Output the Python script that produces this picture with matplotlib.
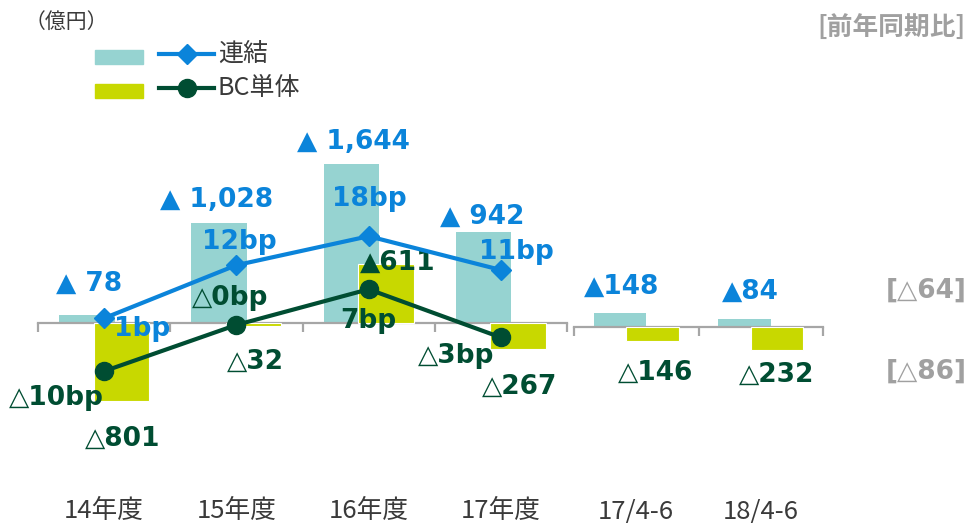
"""Consolidated vs BC standalone: YoY change (億円) with margin change (bp)."""

import matplotlib

matplotlib.use("Agg")
import matplotlib.pyplot as plt
from matplotlib.patches import Rectangle

# ---- data -------------------------------------------------------------
annual_labels = ["14年度", "15年度", "16年度", "17年度"]
quarter_labels = ["17/4-6", "18/4-6"]

consol_annual = [78, 1028, 1644, 942]
bc_annual = [-801, -32, 611, -267]
consol_quarter = [148, 84]
bc_quarter = [-146, -232]

consol_bp = [1, 12, 18, 11]
bc_bp = [-10, -0.4, 7, -3]

prior_notes = ["[△64]", "[△86]"]

# ---- style ------------------------------------------------------------
W, H = 971, 523
TEAL = "#96D3D1"
LIME = "#C8D800"
BLUE = "#0B84DA"
DGREEN = "#004D32"
AXIS_GRAY = "#A6A6A6"
NOTE_GRAY = "#A0A0A0"
TEXT = "#3A3A3A"
JP = ["Noto Sans CJK JP", "DejaVu Sans"]
NUM = ["DejaVu Sans", "Noto Sans CJK JP"]
LABEL_FS = 19

PX_PER_YEN = 0.097  # vertical pixels per 億円
PX_PER_BP = 4.82  # vertical pixels per bp
BAR_W = 0.42
BAR_SHIFT = 0.13

# label offsets in pixels (dx, dy) from the mark they describe
consol_annual_off = [(2, 32), (-3, 23), (2, 22), (-1, 15)]
bc_annual_off = [(1, -38), (2, -36), (12, 1), (2, -38)]
consol_quarter_off = [(2, 26), (6, 27)]
bc_quarter_off = [(3, -32), (0, -25)]
consol_bp_off = [(38, -11), (3, 23), (1, 37), (15, 18)]
bc_bp_off = [(-48, -27), (-6, 27), (0, -32), (-45, -19)]


def fmt_yen(v, gap=""):
    if v >= 0:
        return f"▲{gap}{v:,}"
    return f"△{abs(v):,}"


def fmt_bp(v):
    r = int(round(abs(v)))
    return f"△{r}bp" if v < 0 else f"{r}bp"


def make_axes(fig, left_px, right_px, base_px):
    ax = fig.add_axes([left_px / W, 0, (right_px - left_px) / W, 1])
    below = (H - base_px) / PX_PER_YEN
    ax.set_ylim(-below, base_px / PX_PER_YEN)
    ax.patch.set_alpha(0)
    for s in ("top", "right", "left"):
        ax.spines[s].set_visible(False)
    ax.spines["bottom"].set_position(("data", 0))
    ax.spines["bottom"].set_color(AXIS_GRAY)
    ax.spines["bottom"].set_linewidth(1.6)
    ax.tick_params(axis="x", direction="out", length=6.5, width=1.6,
                   color=AXIS_GRAY, labelbottom=False)
    ax.set_yticks([])
    return ax


def draw_group(ax, labels, consol, bc, consol_off, bc_off, gap):
    n = len(labels)
    centers = [i + 0.5 for i in range(n)]
    ax.set_xlim(0, n)
    ax.set_xticks(range(n + 1))
    tx = [c - BAR_SHIFT for c in centers]
    bx = [c + BAR_SHIFT for c in centers]
    ax.bar(tx, consol, width=BAR_W, color=TEAL, zorder=2)
    ax.bar(bx, bc, width=BAR_W, color=LIME, edgecolor="white", linewidth=0.8, zorder=3)
    for x, v, off in zip(tx, consol, consol_off):
        ax.annotate(fmt_yen(v, gap), (x, v), xytext=off, textcoords="offset pixels",
                    ha="center", va="center", fontsize=LABEL_FS, fontweight="bold",
                    color=BLUE, family=NUM, annotation_clip=False, zorder=6)
    for x, v, off in zip(bx, bc, bc_off):
        ax.annotate(fmt_yen(v), (x, v), xytext=off, textcoords="offset pixels",
                    ha="center", va="center", fontsize=LABEL_FS, fontweight="bold",
                    color=DGREEN, family=NUM, annotation_clip=False, zorder=6)
    tr = ax.get_xaxis_transform()
    for c, lab in zip(centers, labels):
        ax.text(c, 0.022, lab, transform=tr, ha="center", va="center",
                fontsize=18.5, color=TEXT, family=JP)
    return centers


fig = plt.figure(figsize=(W / 100, H / 100), dpi=100)

ax1 = make_axes(fig, 38, 567, 323)
centers = draw_group(ax1, annual_labels, consol_annual, bc_annual,
                     consol_annual_off, bc_annual_off, gap=" ")

ax2 = make_axes(fig, 574, 823, 327)
draw_group(ax2, quarter_labels, consol_quarter, bc_quarter,
           consol_quarter_off, bc_quarter_off, gap="")

# margin change (bp) on a secondary scale sharing the zero line
axb = ax1.twinx()
axb.set_ylim(-(H - 323) / PX_PER_BP, 323 / PX_PER_BP)
axb.axis("off")
axb.plot(centers, consol_bp, color=BLUE, lw=3, marker="D", ms=10, zorder=4)
axb.plot(centers, bc_bp, color=DGREEN, lw=3, marker="o", ms=13, zorder=4)
for x, v, off in zip(centers, consol_bp, consol_bp_off):
    axb.annotate(fmt_bp(v), (x, v), xytext=off, textcoords="offset pixels",
                 ha="center", va="center", fontsize=LABEL_FS, fontweight="bold",
                 color=BLUE, family=NUM, annotation_clip=False)
for x, v, off in zip(centers, bc_bp, bc_bp_off):
    axb.annotate(fmt_bp(v), (x, v), xytext=off, textcoords="offset pixels",
                 ha="center", va="center", fontsize=LABEL_FS, fontweight="bold",
                 color=DGREEN, family=NUM, annotation_clip=False)

# overlay in pixel coordinates for legend and header notes
ov = fig.add_axes([0, 0, 1, 1])
ov.set_xlim(0, W)
ov.set_ylim(H, 0)
ov.axis("off")

ov.text(66, 22, "（億円）", ha="center", va="center", fontsize=15,
        color=TEXT, family=JP)
ov.text(966, 27, "[前年同期比]", ha="right", va="center", fontsize=18.5,
        fontweight="bold", color=NOTE_GRAY, family=JP)
for y, note in zip([291, 372], prior_notes):
    ov.text(926, y, note, ha="center", va="center", fontsize=LABEL_FS,
            fontweight="bold", color=NOTE_GRAY, family=NUM)

legend_rows = [(57, TEAL, BLUE, "D", 10, "連結"), (91, LIME, DGREEN, "o", 13, "BC単体")]
for y, patch_c, line_c, mk, ms, name in legend_rows:
    ov.add_patch(Rectangle((95, y - 7), 48, 14, color=patch_c))
    ov.plot([159, 187, 214], [y - 3, y - 3, y - 3], color=line_c, lw=3,
            marker=mk, ms=ms, markevery=[1])
    ov.text(218, y - 3, name, ha="left", va="center", fontsize=18,
            color=TEXT, family=JP)

fig.savefig("out.png", dpi=100)
